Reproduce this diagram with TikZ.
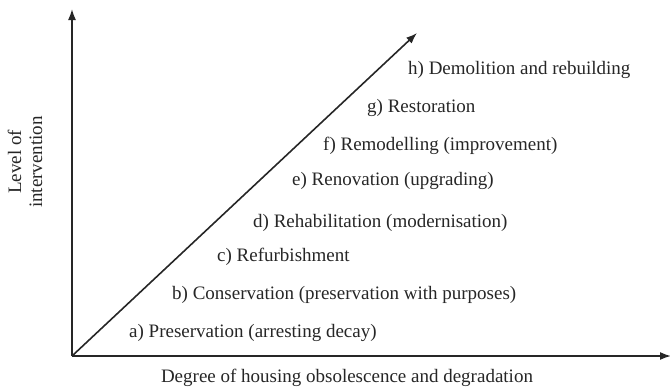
\documentclass[tikz,border=0pt]{standalone}
\usepackage{fontspec}
\setmainfont{Liberation Serif}
\usetikzlibrary{arrows.meta}
\begin{document}
\begin{tikzpicture}[x=1pt,y=-1pt,
  axis/.style={line width=1.6pt,draw=black!85,-{Latex[length=11pt,width=8pt]}},
  lab/.style={anchor=west,inner sep=0pt,text=black!85,font=\fontsize{19}{21}\selectfont},
  axlab/.style={inner sep=0pt,text=black!85,font=\fontsize{19}{21}\selectfont,align=center}]
\useasboundingbox (0,0) rectangle (670,389);
\coordinate (o) at (72,356);
\coordinate (ytop) at (72,9);
\coordinate (xend) at (671,356);
\coordinate (dend) at (417,33);
\draw[axis] (o) -- (ytop);
\draw[axis] (o) -- (xend);
\draw[axis] (o) -- (dend);
\node[lab] (a) at (129,333) {a) Preservation (arresting decay)};
\node[lab] (b) at (172,295) {b) Conservation (preservation\ with purposes)};
\node[lab] (c) at (217,257) {c)\ Refurbishment};
\node[lab] (d) at (253,223) {d)\ Rehabilitation (modernisation)};
\node[lab] (e) at (292,181) {e)\ Renovation (upgrading)};
\node[lab] (f) at (323,146) {f)\ Remodelling (improvement)};
\node[lab] (g) at (367,108) {g) Restoration};
\node[lab] (h) at (408,70) {h) Demolition and rebuilding};
\node[axlab] (xl) at (347,378) {Degree of housing obsolescence and degradation};
\node[axlab,rotate=90] (yl) at (25,162) {Level of\\intervention};
\end{tikzpicture}
\end{document}
